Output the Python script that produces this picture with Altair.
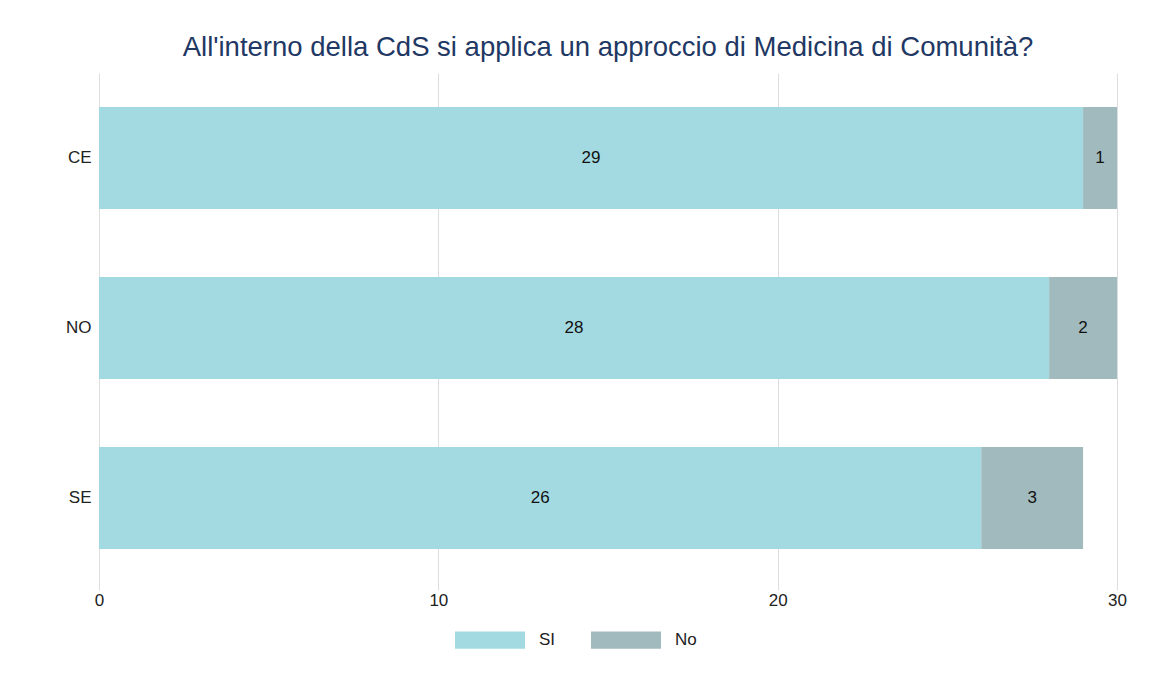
import altair as alt
import pandas as pd

regions = ["CE", "NO", "SE"]
si_values = [29, 28, 26]
no_values = [1, 2, 3]
series = ["SI", "No"]
colors = ["#a3dae2", "#a1babe"]
x_ticks = [0, 10, 20, 30]
title_text = "All'interno della CdS si applica un approccio di Medicina di Comunità?"

rows = []
for r, s, n in zip(regions, si_values, no_values):
    rows.append({"region": r, "answer": series[0], "value": s, "ord": 0})
    rows.append({"region": r, "answer": series[1], "value": n, "ord": 1})
df = pd.DataFrame(rows)

FONT = "Liberation Sans"
FS = 17

base = alt.Chart(df).transform_stack(
    stack="value", as_=["x0", "x1"], groupby=["region"],
    sort=[alt.SortField("ord", order="ascending")]
).transform_calculate(mid="(datum.x0 + datum.x1) / 2")

y_enc = alt.Y(
    "region:N", sort=regions,
    scale=alt.Scale(paddingInner=0.4, paddingOuter=0.2),
    axis=alt.Axis(title=None, domain=False, ticks=False, labelFontSize=FS,
                  labelPadding=8, labelColor="#222222", labelFont=FONT, grid=False),
)

bars = base.mark_bar().encode(
    y=y_enc,
    x=alt.X("x0:Q", scale=alt.Scale(domain=[0, 30], nice=False),
            axis=alt.Axis(values=x_ticks, title=None, domain=False, grid=True,
                          gridColor="#dddddd", tickColor="#dddddd", tickSize=7,
                          labelPadding=2, labelFontSize=FS, labelColor="#222222",
                          labelFont=FONT, labelFlush=False)),
    x2="x1:Q",
    color=alt.Color("answer:N", scale=alt.Scale(domain=series, range=colors),
                    legend=alt.Legend(title=None, orient="none", direction="horizontal",
                                      legendX=382, legendY=558, padding=0,
                                      symbolType="M-4,-1h8v2h-8Z", symbolSize=306,
                                      symbolStrokeWidth=0, symbolOpacity=1,
                                      labelOffset=40, columnPadding=35,
                                      labelFontSize=FS, labelFont=FONT, labelColor="#222222")),
    order=alt.Order("ord:Q"),
)

text = base.mark_text(fontSize=FS, color="#111111", font=FONT).encode(
    y=alt.Y("region:N", sort=regions),
    x="mid:Q",
    text="value:Q",
)

chart = alt.layer(bars, text).properties(
    width=1018, height=510,
    title=alt.TitleParams(title_text, fontSize=27.5, font=FONT, color="#1f3864",
                          fontWeight="normal", anchor="middle", offset=12),
    autosize=alt.AutoSizeParams(type="none"),
    padding={"left": 91, "top": 65, "right": 37, "bottom": 84},
).configure_view(stroke=None)

chart.save("out.html", embed_options={"renderer": "svg", "actions": False})
